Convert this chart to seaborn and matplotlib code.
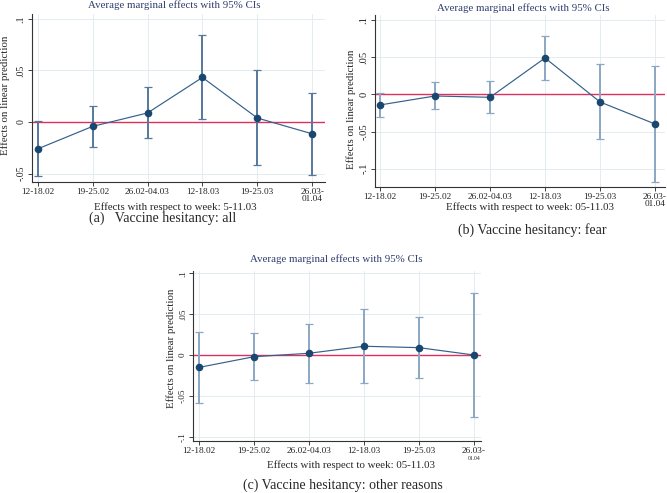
import numpy as np
import pandas as pd
import matplotlib.pyplot as plt
import seaborn as sns

sns.set_style("white")
plt.rcParams['font.family'] = ['Liberation Serif', 'DejaVu Serif']

weeks = ['12-18.02', '19-25.02', '26.02-04.03', '12-18.03', '19-25.03', '26.03-\n01.04']

# (a) vaccine hesitancy: all
est_a = [-0.026, -0.0042, 0.0088, 0.0432, 0.0039, -0.0114]
lo_a = [-0.0526, -0.0237, -0.0159, 0.0029, -0.0419, -0.0513]
hi_a = [0.001, 0.0156, 0.034, 0.0847, 0.050, 0.0286]

# (b) vaccine hesitancy: fear
est_b = [-0.0143, -0.0022, -0.004, 0.0489, -0.0103, -0.0399]
lo_b = [-0.0305, -0.0202, -0.0256, 0.0197, -0.060, -0.1184]
hi_b = [0.0022, 0.0161, 0.0175, 0.078, 0.0404, 0.0386]

# (c) vaccine hesitancy: other reasons
est_c = [-0.0152, -0.0021, 0.0021, 0.0107, 0.009, 0.0]
lo_c = [-0.0592, -0.0312, -0.0345, -0.0349, -0.0279, -0.0764]
hi_c = [0.0279, 0.0271, 0.0382, 0.0567, 0.0464, 0.0764]

W, H = 667, 493
navy = '#1a476f'
line_c = '#34608c'
red = '#e0305f'
grid_c = '#e3ecef'
title_c = '#2f3d6e'

fig = plt.figure(figsize=(W / 100, H / 100), dpi=100)


def px(x, y):
    return x / W, 1 - y / H


def panel(box, est, lo, hi, xlim, ylim, yticks, ylabels, ci_color, yfs, small_last=False):
    left, top, right, bottom = box
    ax = fig.add_axes([left / W, 1 - bottom / H, (right - left) / W, (bottom - top) / H])
    x = np.arange(len(est))
    est = np.array(est)
    lo = np.array(lo)
    hi = np.array(hi)
    ax.axhline(0, color=red, lw=1.0, zorder=2)
    ax.errorbar(x, est, yerr=[est - lo, hi - est], fmt='none', ecolor=ci_color,
                elinewidth=1.4, capsize=2.6, capthick=0.9, zorder=3)
    df = pd.DataFrame({'pos': x, 'est': est})
    sns.lineplot(data=df, x='pos', y='est', ax=ax, color=line_c, lw=0.85, zorder=4)
    sns.scatterplot(data=df, x='pos', y='est', ax=ax, color=navy, s=30, linewidth=0, zorder=5)
    ax.set_xlim(*xlim)
    ax.set_ylim(*ylim)
    ax.set_xticks(x)
    labels = list(weeks)
    if small_last:
        labels[-1] = '26.03-'
    ax.set_xticklabels(labels, fontsize=6.7, linespacing=0.85)
    ax.set_yticks(yticks)
    ax.set_yticklabels(ylabels, fontsize=yfs, rotation=90, va='center')
    ax.set_xlabel('')
    ax.set_ylabel('')
    ax.grid(True, color=grid_c, lw=0.7)
    ax.set_axisbelow(True)
    for s in ['top', 'right']:
        ax.spines[s].set_visible(False)
    for s in ['left', 'bottom']:
        ax.spines[s].set_color('#333333')
        ax.spines[s].set_linewidth(0.8)
    ax.tick_params(axis='both', direction='out', length=3, width=0.6, pad=1.5,
                   colors='#222222', left=True, bottom=True)
    if small_last:
        ax.annotate('01.04', xy=(x[-1], 0), xycoords=('data', 'axes fraction'),
                    xytext=(0, -11), textcoords='offset points', ha='center', va='top',
                    fontsize=4, color='#222222')
    return ax


panel((32, 14.5, 325, 181.7), est_a, lo_a, hi_a, (-0.104, 5.233), (-0.0578, 0.1042),
      [-0.05, 0, 0.05, 0.1], ['-.05', '0', '.05', '.1'], '#56789c', 7.1)
panel((375, 15, 665, 186.7), est_b, lo_b, hi_b, (-0.09, 5.18), (-0.1242, 0.1067),
      [-0.1, -0.05, 0, 0.05, 0.1], ['-.1', '-.05', '0', '.05', '.1'], '#8ba7c2', 7.6)
panel((193.3, 270.7, 481, 441), est_c, lo_c, hi_c, (-0.104, 5.13), (-0.1053, 0.1032),
      [-0.1, -0.05, 0, 0.05, 0.1], ['-.1', '-.05', '0', '.05', '.1'], '#8ba7c2', 6.6,
      small_last=True)

# titles
fs = 7.8
fig.text(*px(174.7, 5), 'Average marginal effects with 95% CIs', ha='center', va='center',
         fontsize=fs, color=title_c)
fig.text(*px(523.3, 8), 'Average marginal effects with 95% CIs', ha='center', va='center',
         fontsize=fs, color=title_c)
fig.text(*px(336, 259), 'Average marginal effects with 95% CIs', ha='center', va='center',
         fontsize=fs, color=title_c)

# axis titles
fig.text(*px(175.8, 207), 'Effects with respect to week: 5-11.03', ha='center', va='center', fontsize=fs)
fig.text(*px(530, 207.3), 'Effects with respect to week: 05-11.03', ha='center', va='center', fontsize=fs)
fig.text(*px(351, 465), 'Effects with respect to week: 05-11.03', ha='center', va='center', fontsize=fs)
fig.text(*px(5, 95), 'Effects on linear prediction', ha='center', va='center', rotation=90, fontsize=fs)
fig.text(*px(351, 109), 'Effects on linear prediction', ha='center', va='center', rotation=90, fontsize=fs)
fig.text(*px(170.7, 348), 'Effects on linear prediction', ha='center', va='center', rotation=90, fontsize=fs)

# captions
fig.text(*px(163, 218), '(a)   Vaccine hesitancy: all', ha='center', va='center', fontsize=10)
fig.text(*px(532, 230), '(b) Vaccine hesitancy: fear', ha='center', va='center', fontsize=10)
fig.text(*px(343, 485.7), '(c) Vaccine hesitancy: other reasons', ha='center', va='center', fontsize=10)

fig.savefig('out.png', dpi=100)
